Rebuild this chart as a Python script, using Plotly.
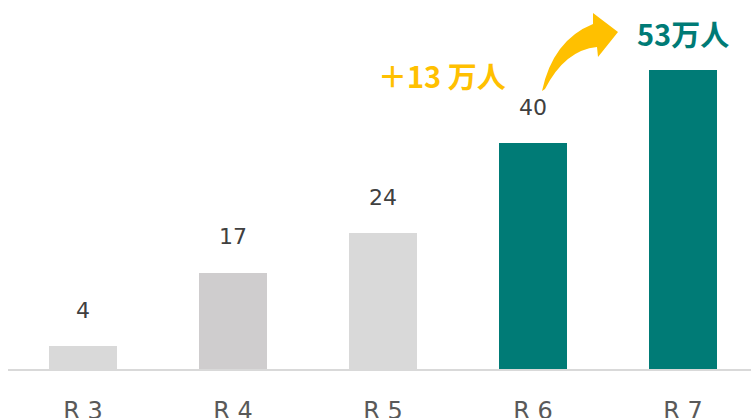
import plotly.graph_objects as go

categories = ["R 3", "R 4", "R 5", "R 6", "R 7"]
values = [4, 17, 24, 40, 53]
bar_colors = ["#d9d9d9", "#cfcdce", "#d9d9d9", "#007b76", "#007b76"]
value_labels = ["4", "17", "24", "40", ""]
total_label = "53万人"
increase_label = "＋13 万人"

W, H = 751, 418
ML, MB = 8, 49
PW, PH = W - ML, H - MB

fig = go.Figure()
fig.add_trace(go.Bar(
    x=list(range(len(categories))), y=values,
    marker=dict(color=bar_colors, line=dict(width=0)),
    width=0.455, hoverinfo="skip",
))

for i, (v, t) in enumerate(zip(values, value_labels)):
    if t:
        fig.add_annotation(x=i, y=v, text=t, showarrow=False, yshift=36,
                           font=dict(family="DejaVu Sans", size=22, color="#404040"))

fig.add_annotation(x=4, y=values[4], text=f"<b>{total_label}</b>", showarrow=False, yshift=37,
                   font=dict(family="Noto Sans CJK JP", size=29, color="#007b76"))


def px2paper(px, py):
    return (px - ML) / PW, (PH - py) / PH

fig.add_annotation(x=px2paper(442, 0)[0], y=px2paper(0, 52)[1], xref="paper", yref="paper",
                   text=f"<b>{increase_label}</b>", showarrow=False,
                   font=dict(family="Noto Sans CJK JP", size=29, color="#ffc000"))

# curved arrow (pixel outline converted to paper coordinates)
pts = [
    ("M", [(542, 91)]),
    ("Q", [(553, 40), (593, 24)]),
    ("L", [(593, 13)]),
    ("L", [(618, 32)]),
    ("L", [(598, 57)]),
    ("L", [(597, 47)]),
    ("Q", [(565, 50), (545, 89)]),
]
path = ""
for cmd, pl in pts:
    path += cmd + " " + " ".join(f"{px2paper(a, b)[0]:.5f},{px2paper(a, b)[1]:.5f}" for a, b in pl) + " "
path += "Z"
fig.add_shape(type="path", path=path, xref="paper", yref="paper",
              fillcolor="#ffc000", line=dict(width=0))

fig.update_layout(
    width=W, height=H, margin=dict(l=ML, r=0, t=0, b=MB, autoexpand=False),
    paper_bgcolor="white", plot_bgcolor="white", showlegend=False,
    bargap=0,
    xaxis=dict(range=[-0.5, -0.5 + PW / 150], tickmode="array",
               tickvals=list(range(len(categories))), ticktext=categories,
               showgrid=False, zeroline=False, showline=True, linecolor="#d9d9d9", linewidth=2,
               ticks="", ticklabelstandoff=19, automargin=False,
               tickfont=dict(family="DejaVu Sans", size=24, color="#595959"), fixedrange=True),
    yaxis=dict(range=[0, PH / 5.65], visible=False, fixedrange=True, automargin=False),
)
fig.write_html("out.html", config={"displayModeBar": False},
               post_script="document.body.style.margin='0';document.body.style.overflow='hidden';")
